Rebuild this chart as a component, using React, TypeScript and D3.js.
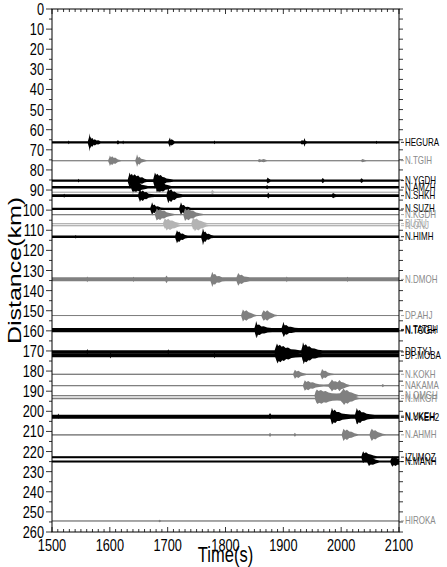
import * as d3 from 'd3';

// time axis (s) and distance axis (km)
const timeDomain = [1500, 2100];
const distDomain = [0, 260];
const timeTicks = [1500, 1600, 1700, 1800, 1900, 2000, 2100];
const distTicks = [0, 10, 20, 30, 40, 50, 60, 70, 80, 90, 100, 110, 120, 130, 140, 150, 160, 170, 180, 190, 200, 210, 220, 230, 240, 250, 260];

// stations: name, distance (km), tone, noise half-width (km)
const stations = ['HEGURA', 'N.TGIH', 'N.YGDH', 'N.AMZH', '', 'N.SHKH', 'N.SUZH', 'N.KGDH', 'BUZU', 'N.ONJ', 'N.HIMH', 'N.DMOH', 'DP.AHJ', 'N.TATEH', 'N.TOGH', 'DP.TYJ', 'DP.MOBA', 'N.KOKH', 'NAKAMA', 'N.OMGH', 'N.MKGH', 'N.UKEH', 'N.YKEH2', 'N.AHMH', 'IZUMOZ', 'N.MANH', 'HIROKA'];
const distances = [66.3, 75.4, 85.3, 88.6, 91.1, 92.8, 99.4, 102.2, 106.7, 107.7, 113.2, 134.4, 152.4, 159.3, 159.9, 170.5, 172.2, 181.6, 187.2, 192.2, 193.6, 202.4, 203.0, 211.7, 222.8, 225.0, 254.5];
const tones = ['k', 'g', 'k', 'k', 'l', 'k', 'k', 'g', 'l', 'l', 'k', 'g', 'g', 'k', 'k', 'k', 'k', 'g', 'g', 'g', 'g', 'k', 'k', 'g', 'k', 'k', 'g'];
const noise = [0.6, 0.25, 0.6, 0.6, 0.25, 0.65, 0.55, 0.35, 0.35, 0.35, 0.6, 1.0, 0.25, 0.75, 0.75, 0.85, 0.9, 0.3, 0.3, 0.35, 0.35, 0.75, 0.75, 0.35, 0.5, 0.5, 0.25];

// envelope of each trace: [time (s), half amplitude (km)]
const packets: [number, number][][] = [
  // HEGURA
  [[1528, 0.6], [1529, 0.9], [1530, 0.6], [1562, 0.6], [1564, 2.5], [1565, 4.5], [1566, 2], [1567, 3], [1568, 1.8], [1570, 2.2], [1572, 1.2], [1574, 1.5], [1577, 0.9], [1580, 1.0], [1584, 0.6], [1612, 0.6], [1614, 1.1], [1616, 0.6], [1622, 0.6], [1623, 0.9], [1624, 0.6], [1701, 0.6], [1703, 1.8], [1704, 2.4], [1705, 1.2], [1707, 1.5], [1712, 0.6], [1780, 0.6], [1781, 0.9], [1782, 0.6], [1930, 0.6], [1932, 1.0], [1935, 0.8], [1937, 2.2], [1938, 0.8], [1941, 0.6], [2060, 0.6], [2061, 0.8], [2062, 0.6]],
  // N.TGIH
  [[1597, 0.25], [1599, 1.5], [1600, 2.6], [1602, 1.6], [1604, 2.2], [1607, 1.3], [1609, 1.6], [1614, 0.6], [1620, 0.25], [1644, 0.25], [1646, 1.8], [1647, 3.2], [1649, 1.5], [1651, 2.0], [1654, 1.0], [1658, 0.7], [1664, 0.25], [1856, 0.25], [1858, 0.8], [1862, 0.5], [1866, 0.8], [1872, 0.25], [2034, 0.25], [2037, 0.8], [2040, 0.5], [2044, 0.25]],
  // N.YGDH
  [[1545, 0.6], [1546, 0.9], [1547, 0.6], [1631, 0.6], [1633, 2.5], [1634, 4], [1636, 2.6], [1638, 3.4], [1640, 2.4], [1643, 3.2], [1646, 2.2], [1649, 2.5], [1652, 1.5], [1656, 1.6], [1660, 0.9], [1664, 0.7], [1675, 0.7], [1677, 2.8], [1678, 4], [1680, 2.8], [1682, 3.4], [1685, 2.4], [1688, 2.8], [1691, 1.8], [1694, 1.7], [1698, 1.0], [1704, 0.8], [1710, 0.6], [1871, 0.6], [1873, 1.5], [1875, 0.9], [1878, 0.6], [1966, 0.6], [1968, 1.3], [1971, 0.6], [2033, 0.6], [2035, 1.2], [2038, 0.6]],
  // N.AMZH
  [[1637, 0.6], [1639, 2.2], [1640, 3.2], [1642, 2], [1645, 2.8], [1648, 1.8], [1651, 2.1], [1655, 1.2], [1660, 1.0], [1666, 0.6], [1680, 0.6], [1681, 3], [1683, 2], [1686, 2.8], [1689, 1.9], [1692, 2.2], [1696, 1.3], [1700, 1.1], [1706, 0.6], [1870, 0.6], [1872, 1.0], [1874, 0.6]],
  // unnamed light trace
  [[1775, 0.25], [1777, 1.2], [1779, 0.6], [1781, 0.25]],
  // N.SHKH
  [[1520, 0.65], [1521, 1.0], [1522, 0.65], [1649, 0.65], [1651, 2.2], [1652, 3.2], [1654, 2], [1657, 2.6], [1660, 1.7], [1663, 1.8], [1667, 1.0], [1672, 0.8], [1678, 0.65], [1698, 0.65], [1700, 2.6], [1701, 3.8], [1703, 2.4], [1706, 3.2], [1709, 2.0], [1712, 2.1], [1716, 1.2], [1720, 1.0], [1726, 0.65], [1872, 0.65], [1874, 1.4], [1876, 0.65], [1984, 0.65], [1986, 1.3], [1988, 0.9], [1991, 0.65]],
  // N.SUZH
  [[1670, 0.55], [1672, 2.2], [1673, 3.3], [1675, 1.8], [1677, 2.2], [1680, 1.2], [1683, 1.3], [1688, 0.7], [1694, 0.55], [1720, 0.55], [1722, 2.2], [1723, 3.3], [1725, 1.8], [1728, 2.0], [1731, 1.0], [1735, 1.1], [1740, 0.6], [1746, 0.55]],
  // N.KGDH
  [[1678, 0.35], [1680, 2.2], [1681, 3], [1684, 2.2], [1687, 2.7], [1690, 1.8], [1694, 2.0], [1698, 1.2], [1703, 0.8], [1712, 0.35], [1727, 0.35], [1729, 2.2], [1730, 3.2], [1733, 2.2], [1736, 2.8], [1740, 1.8], [1744, 1.9], [1749, 1.0], [1755, 0.6], [1762, 0.35]],
  // BUZU
  [[1692, 0.35], [1694, 1.8], [1695, 2.5], [1698, 1.8], [1701, 2.4], [1704, 1.6], [1708, 1.5], [1713, 0.8], [1720, 0.35], [1741, 0.35], [1743, 2.0], [1744, 3.0], [1747, 2.0], [1750, 2.6], [1754, 1.6], [1758, 1.3], [1763, 0.7], [1768, 0.35]],
  // N.ONJ
  [[1695, 0.35], [1697, 1.7], [1698, 2.4], [1701, 1.6], [1704, 2.2], [1708, 1.4], [1712, 1.3], [1717, 0.7], [1722, 0.35], [1744, 0.35], [1746, 2.0], [1747, 2.8], [1750, 1.8], [1753, 2.4], [1757, 1.4], [1761, 1.2], [1766, 0.6], [1771, 0.35]],
  // N.HIMH
  [[1540, 0.6], [1541, 0.9], [1542, 0.6], [1713, 0.6], [1715, 2.2], [1716, 3.2], [1718, 2.2], [1720, 2.6], [1723, 1.5], [1726, 1.6], [1730, 0.9], [1735, 0.6], [1740, 0.6], [1758, 0.6], [1760, 2.5], [1761, 4.2], [1763, 2.2], [1765, 2.6], [1768, 1.4], [1771, 1.5], [1775, 0.8], [1780, 0.6]],
  // N.DMOH
  [[1560, 1.0], [1561, 1.4], [1562, 1.0], [1640, 1.0], [1641, 1.3], [1642, 1.0], [1696, 1.0], [1698, 1.9], [1700, 1.0], [1774, 1.0], [1776, 2.6], [1777, 3.8], [1779, 2.4], [1782, 2.6], [1785, 1.6], [1789, 1.7], [1794, 1.1], [1800, 1.0], [1819, 1.0], [1821, 2.4], [1822, 3.2], [1825, 2.0], [1828, 2.3], [1832, 1.4], [1836, 1.3], [1842, 1.0], [1905, 1.0], [1906, 1.4], [1907, 1.0], [2010, 1.0], [2011, 1.3], [2012, 1.0]],
  // DP.AHJ
  [[1827, 0.25], [1829, 2.0], [1830, 3.0], [1833, 2.0], [1836, 2.6], [1840, 1.6], [1844, 1.3], [1849, 0.6], [1854, 0.25], [1862, 0.25], [1864, 1.6], [1866, 2.6], [1869, 1.8], [1872, 2.6], [1876, 1.6], [1880, 1.2], [1885, 0.5], [1890, 0.25]],
  // N.TATEH
  [[1850, 0.75], [1852, 2.6], [1853, 4.2], [1855, 2.2], [1858, 2.4], [1862, 1.5], [1866, 1.6], [1872, 1.0], [1880, 0.75], [1897, 0.75], [1899, 2.4], [1900, 3.8], [1902, 2.0], [1905, 2.2], [1909, 1.3], [1913, 1.3], [1920, 0.8], [1926, 0.75]],
  // N.TOGH
  [[1851, 0.75], [1853, 2.4], [1854, 3.6], [1856, 2.0], [1859, 2.2], [1863, 1.4], [1867, 1.4], [1873, 0.9], [1881, 0.75], [1898, 0.75], [1900, 2.2], [1901, 3.2], [1903, 1.8], [1906, 2.0], [1910, 1.2], [1914, 1.2], [1921, 0.75]],
  // DP.TYJ
  [[1560, 0.85], [1561, 1.5], [1562, 0.85], [1700, 0.85], [1701, 1.4], [1702, 0.85], [1885, 0.85], [1887, 2.6], [1889, 4.2], [1891, 3.0], [1894, 3.6], [1897, 2.6], [1900, 3.0], [1904, 2.0], [1908, 2.2], [1913, 1.4], [1920, 1.2], [1928, 0.9], [1931, 0.9], [1933, 3.0], [1934, 4.8], [1936, 3.2], [1939, 3.8], [1942, 2.6], [1945, 2.8], [1949, 1.8], [1954, 1.7], [1960, 1.1], [1968, 0.85]],
  // DP.MOBA
  [[1600, 0.9], [1601, 1.5], [1602, 0.9], [1780, 0.9], [1781, 1.4], [1782, 0.9], [1886, 0.9], [1888, 2.6], [1890, 4.0], [1892, 2.8], [1895, 3.4], [1898, 2.4], [1901, 2.8], [1905, 1.8], [1909, 2.0], [1914, 1.3], [1921, 1.1], [1929, 0.9], [1932, 0.9], [1934, 2.8], [1935, 4.4], [1937, 3.0], [1940, 3.4], [1943, 2.4], [1946, 2.6], [1950, 1.6], [1955, 1.5], [1961, 1.0], [1969, 0.9]],
  // N.KOKH
  [[1917, 0.3], [1919, 1.6], [1920, 2.2], [1923, 1.4], [1926, 1.8], [1930, 1.0], [1934, 0.7], [1940, 0.3], [1964, 0.3], [1966, 1.8], [1967, 2.6], [1970, 1.6], [1973, 1.8], [1977, 0.9], [1982, 0.5], [1988, 0.3]],
  // NAKAMA
  [[1934, 0.3], [1936, 1.8], [1937, 2.6], [1940, 1.8], [1943, 2.3], [1947, 1.5], [1951, 1.6], [1956, 1.0], [1962, 0.7], [1970, 0.5], [1978, 0.6], [1982, 2.0], [1984, 3.0], [1987, 2.0], [1990, 2.2], [1994, 1.6], [1997, 2.8], [2000, 1.8], [2004, 1.5], [2009, 0.8], [2015, 0.3], [2070, 0.3], [2072, 0.8], [2074, 0.3]],
  // N.OMGH
  [[1954, 0.35], [1956, 2.2], [1958, 3.0], [1961, 2.3], [1965, 2.8], [1969, 2.1], [1973, 2.3], [1978, 1.6], [1984, 1.2], [1992, 1.0], [1998, 1.2], [2002, 2.6], [2004, 3.6], [2007, 2.4], [2010, 2.8], [2014, 1.8], [2018, 1.6], [2023, 0.9], [2030, 0.35]],
  // N.MKGH
  [[1955, 0.35], [1957, 2.0], [1959, 2.8], [1962, 2.1], [1966, 2.6], [1970, 1.9], [1974, 2.1], [1979, 1.5], [1985, 1.1], [1993, 1.0], [1999, 1.1], [2003, 2.4], [2005, 3.3], [2008, 2.2], [2011, 2.6], [2015, 1.7], [2019, 1.5], [2024, 0.8], [2031, 0.35]],
  // N.UKEH
  [[1510, 0.75], [1511, 1.3], [1512, 0.75], [1875, 0.75], [1877, 1.6], [1879, 0.75], [1981, 0.75], [1983, 2.8], [1984, 4.2], [1986, 2.6], [1989, 3.2], [1992, 2.0], [1996, 2.0], [2001, 1.3], [2008, 1.0], [2016, 0.8], [2024, 0.8], [2026, 2.8], [2027, 4.0], [2029, 2.6], [2032, 3.0], [2035, 1.9], [2039, 1.9], [2044, 1.2], [2050, 0.9], [2058, 0.75]],
  // N.YKEH2
  [[1982, 0.75], [1984, 2.6], [1985, 3.6], [1987, 2.4], [1990, 2.8], [1993, 1.8], [1997, 1.8], [2002, 1.2], [2009, 0.9], [2017, 0.75], [2025, 0.75], [2027, 2.6], [2028, 3.6], [2030, 2.4], [2033, 2.8], [2036, 1.8], [2040, 1.7], [2045, 1.1], [2051, 0.8], [2059, 0.75]],
  // N.AHMH
  [[1875, 0.35], [1877, 1.1], [1879, 0.35], [1918, 0.35], [1920, 1.0], [1922, 0.35], [2001, 0.35], [2003, 2.2], [2004, 3.0], [2007, 2.0], [2010, 2.6], [2014, 1.6], [2018, 1.5], [2023, 0.8], [2030, 0.35], [2049, 0.35], [2051, 2.0], [2053, 3.0], [2056, 2.0], [2059, 2.3], [2063, 1.4], [2067, 1.0], [2072, 0.5], [2078, 0.35]],
  // IZUMOZ
  [[2035, 0.5], [2037, 2.2], [2038, 3.0], [2040, 2.0], [2043, 2.5], [2047, 1.6], [2051, 1.3], [2056, 0.8], [2062, 0.5]],
  // N.MANH
  [[2045, 0.5], [2047, 1.6], [2048, 2.2], [2051, 1.5], [2055, 1.6], [2060, 0.9], [2066, 0.5], [2085, 0.5], [2087, 1.8], [2089, 2.6], [2091, 1.7], [2094, 2.2], [2097, 1.6], [2100, 1.6]],
  // HIROKA
  [[1684, 0.25], [1686, 0.6], [1689, 0.25]],
];

const toneFill: Record<string, string> = { k: '#000000', g: '#808080', l: '#b4b4b4' };
const toneText: Record<string, string> = { k: '#000000', g: '#8a8a8a', l: '#a8a8a8' };

const font = '"Liberation Sans", Arial, Helvetica, sans-serif';
const squeeze = 0.75;

export default function App() {
  const width = 447;
  const height = 567;
  const margin = { top: 9, right: 48, bottom: 35, left: 52 };

  const x = d3.scaleLinear().domain(timeDomain).range([margin.left, width - margin.right]);
  const y = d3.scaleLinear().domain(distDomain).range([margin.top, height - margin.bottom]);
  const [x0, x1] = x.range();
  const [y0, y1] = y.range();

  const minorT = d3.range(timeDomain[0], timeDomain[1] + 1, 10);
  const minorD = d3.range(distDomain[0], distDomain[1] + 1, 5);

  const traces = stations.map((name, i) => {
    const d = distances[i];
    const n = noise[i];
    const last = packets[i][packets[i].length - 1];
    const env: [number, number][] = [[timeDomain[0], n], ...packets[i]];
    if (last[0] < timeDomain[1]) env.push([timeDomain[1], n]);
    const area = d3
      .area<[number, number]>()
      .x(p => x(p[0]))
      .y0(p => y(d - p[1]))
      .y1(p => y(d + p[1]))
      .curve(d3.curveLinear);
    return { name, d, tone: tones[i], path: area(env) || '' };
  });

  return (
    <svg width={width} height={height} style={{ position: 'absolute', left: 0, top: 0, background: '#fff' }}>
      <rect width={width} height={height} fill="#fff" />

      {/* traces */}
      {traces.map((t, i) => (
        <g key={i}>
          <line x1={x0} x2={x1} y1={y(t.d)} y2={y(t.d)} stroke={toneFill[t.tone]} strokeWidth={0.8} />
          <path d={t.path} fill={toneFill[t.tone]} />
        </g>
      ))}

      {/* frame */}
      <rect x={x0} y={y0} width={x1 - x0} height={y1 - y0} fill="none" stroke="#000" strokeWidth={1} />

      {/* time ticks, top and bottom, inside */}
      {minorT.map(t => {
        const len = t % 100 === 0 ? 5 : 3;
        return (
          <g key={'t' + t} stroke="#000" strokeWidth={0.8}>
            <line x1={x(t)} x2={x(t)} y1={y0} y2={y0 + len} />
            <line x1={x(t)} x2={x(t)} y1={y1} y2={y1 - len} />
          </g>
        );
      })}

      {/* distance ticks, left and right, outside */}
      {minorD.map(v => {
        const len = v % 10 === 0 ? 6 : 3;
        return (
          <g key={'d' + v} stroke="#000" strokeWidth={0.8}>
            <line x1={x0} x2={x0 - len} y1={y(v)} y2={y(v)} />
            <line x1={x1} x2={x1 + 4} y1={y(v)} y2={y(v)} />
          </g>
        );
      })}

      {/* tick labels */}
      {distTicks.map(v => (
        <text key={'dl' + v} transform={`translate(${x0 - 8},${y(v) + 6}) scale(${squeeze},1)`} textAnchor="end" fontFamily={font} fontSize={17} fill="#000">
          {v}
        </text>
      ))}
      {timeTicks.map(t => (
        <text key={'tl' + t} transform={`translate(${x(t)},${y1 + 19}) scale(${squeeze},1)`} textAnchor="middle" fontFamily={font} fontSize={17} fill="#000">
          {t}
        </text>
      ))}

      {/* station labels */}
      {traces.map((t, i) =>
        t.name ? (
          <g key={'s' + i}>
            <line x1={x1 + 2} x2={x1 + 5} y1={y(t.d)} y2={y(t.d)} stroke={toneText[t.tone]} strokeWidth={0.8} />
            <text transform={`translate(${x1 + 6},${y(t.d) + 3.5}) scale(0.8,1)`} fontFamily={font} fontSize={10} fill={toneText[t.tone]}>
              {t.name}
            </text>
          </g>
        ) : null
      )}

      {/* axis titles */}
      <text transform={`translate(${(x0 + x1) / 2},${height - 5}) scale(${squeeze},1)`} textAnchor="middle" fontFamily={font} fontSize={22} fill="#000">
        Time(s)
      </text>
      <text transform={`translate(21,${(y0 + y1) / 2}) scale(${squeeze},1) rotate(-90)`} textAnchor="middle" fontFamily={font} fontSize={25} fill="#000">
        Distance(km)
      </text>
    </svg>
  );
}
